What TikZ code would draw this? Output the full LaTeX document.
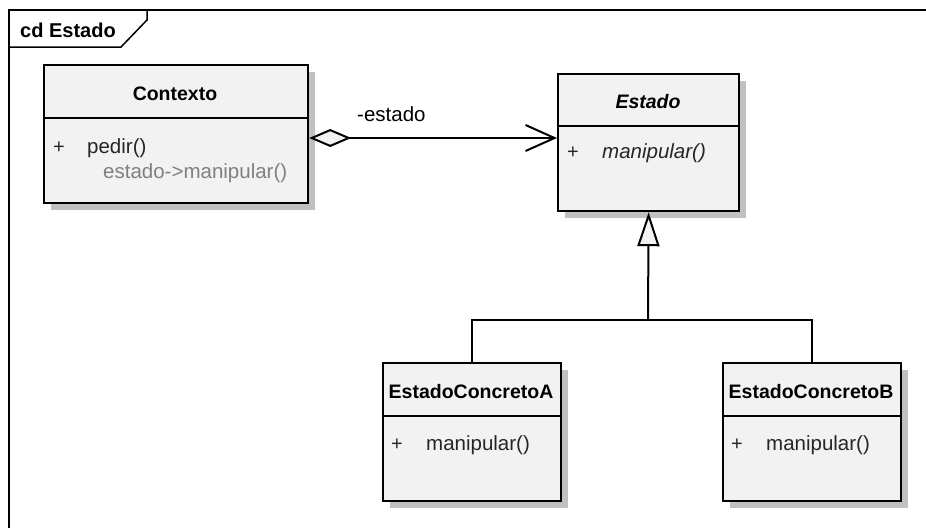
\documentclass[tikz,border=0pt]{standalone}
\usepackage{fontspec}
\setmainfont{Liberation Sans}
\usetikzlibrary{arrows.meta,shadows}

\definecolor{boxfill}{HTML}{F2F2F2}
\definecolor{shade}{HTML}{C0C0C0}
\definecolor{bodyink}{HTML}{262626}
\definecolor{noteink}{HTML}{808080}

\begin{document}
\begin{tikzpicture}[x=1pt,y=-1pt,
  framestroke/.style={draw=black,line width=1.5pt},
  classbox/.style={draw=black,line width=2.2pt,fill=boxfill,rectangle,
    anchor=north west,inner sep=0pt,minimum width=178pt,minimum height=138pt,
    drop shadow={shadow xshift=7pt,shadow yshift=-7pt,fill=shade,opacity=1}},
  sepline/.style={draw=black,line width=1.6pt},
  classname/.style={inner sep=0pt,font=\fontsize{19.5}{23}\selectfont\bfseries},
  vis/.style={inner sep=0pt,font=\fontsize{20}{24}\selectfont,text=bodyink},
  member/.style={inner sep=0pt,anchor=west,font=\fontsize{20.5}{24}\selectfont,text=bodyink},
  conn/.style={draw=black,line width=2pt},
  >=Straight Barb
]
\useasboundingbox (0,0) rectangle (926,528);

% diagram frame and its name tab
\draw[framestroke] (926,10) -- (9,10) -- (9,528);
\draw[framestroke] (9,47) -- (121,47) -- (147,20) -- (147,10);
\node[anchor=west,inner sep=0pt,font=\fontsize{20}{24}\selectfont\bfseries] (frametitle) at (20,30) {cd Estado};

% class boxes
\node[classbox,minimum width=264pt] (ctx) at (43,64) {};
\node[classbox,minimum width=181pt,minimum height=137pt] (est) at (557,73) {};
\node[classbox] (ca) at (382,362) {};
\node[classbox] (cb) at (722,362) {};

% compartment separators
\draw[sepline] ([yshift=-54pt]ctx.north west) -- ([yshift=-54pt]ctx.north east);
\draw[sepline] ([yshift=-53pt]est.north west) -- ([yshift=-53pt]est.north east);
\draw[sepline] ([yshift=-54pt]ca.north west) -- ([yshift=-54pt]ca.north east);
\draw[sepline] ([yshift=-54pt]cb.north west) -- ([yshift=-54pt]cb.north east);

% Contexto
\node[classname] (ctxname) at (175,94) {Contexto};
\node[vis] (ctxplus) at (59,148) {+};
\node[member] (ctxop) at (87,148) {pedir()};
\node[member,text=noteink] (ctxnote) at (103,173) {estado->manipular()};

% Estado (abstract)
\node[classname,font=\fontsize{19.5}{23}\selectfont\bfseries\itshape] (estname) at (648,102) {Estado};
\node[vis] (estplus) at (573,153) {+};
\node[member,font=\fontsize{20.5}{24}\selectfont\itshape] (estop) at (602,153) {manipular()};

% EstadoConcretoA
\node[classname] (caname) at (471,392) {EstadoConcretoA};
\node[vis] (caplus) at (397,445) {+};
\node[member] (caop) at (426,445) {manipular()};

% EstadoConcretoB
\node[classname] (cbname) at (811,392) {EstadoConcretoB};
\node[vis] (cbplus) at (737,445) {+};
\node[member] (cbop) at (766,445) {manipular()};

% aggregation Contexto -> Estado
\coordinate (aggrow) at (0,138);
\draw[conn,{Diamond[length=42pt,width=18pt,fill=boxfill,line width=2pt]}-{Straight Barb[length=29pt,width=26pt,line width=2pt]}]
  (ctx.east |- aggrow) -- (est.west |- aggrow);
\node[anchor=west,inner sep=0pt,font=\fontsize{20.5}{24}\selectfont] (rolename) at (357,114) {-estado};

% generalization of the concrete states
\coordinate (fork) at (648,320);
\draw[conn] (ca.north) |- (fork) -| (cb.north);
\draw[conn,-{Triangle[length=34pt,width=22pt,fill=boxfill,line width=2pt]}] (fork) -- (est.south);
\end{tikzpicture}
\end{document}
